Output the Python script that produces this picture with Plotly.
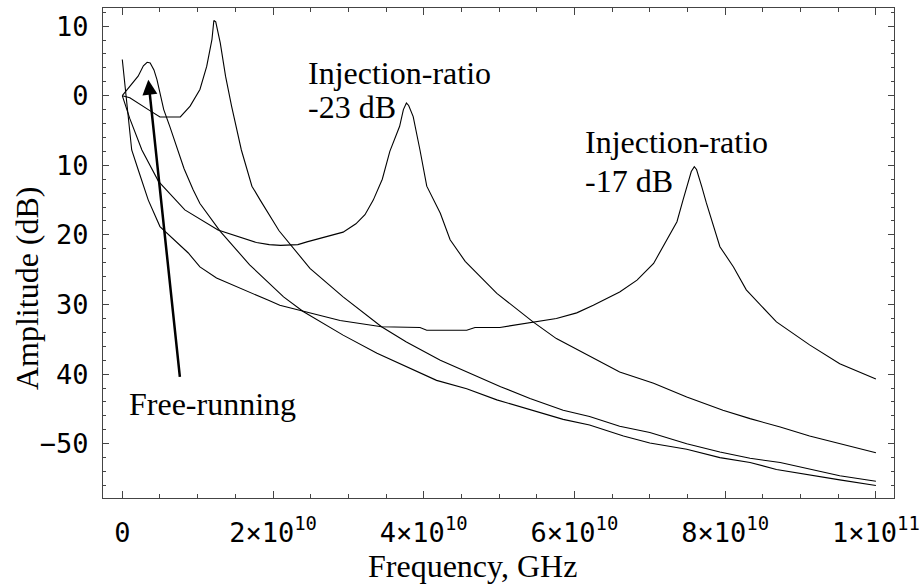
import plotly.graph_objects as go

SCALE = 1e10  # frequency values below are in units of 1e10 Hz

# Free-running
free_x = [0, 0.1, 0.21, 0.28, 0.33, 0.37, 0.42, 0.46, 0.5, 0.55, 0.63, 0.72, 0.82, 0.94, 1.03, 1.30, 1.69,
          2.14, 2.40, 2.93, 3.38, 4.17, 4.57, 4.97, 5.41, 5.85, 6.2, 6.65, 7.0, 7.49, 7.93, 8.33, 8.68,
          9.17, 9.52, 10.0]
free_y = [0, 1.3, 2.8, 4.3, 4.8, 4.7, 3.7, 2.3, 0.4, -2.0, -4.4, -7.3, -10.5, -13.5, -15.5, -19.5, -24.3,
          -28.9, -31.0, -34.4, -37.0, -40.9, -42.1, -43.7, -45.1, -46.5, -47.3, -48.9, -49.9, -50.8, -52.0,
          -52.7, -53.7, -54.6, -55.2, -56.0]

# Weak injection (resonance near 1.2e10)
weak_x = [0, 0.1, 0.345, 0.5, 0.77, 0.9, 1.03, 1.12, 1.19, 1.215, 1.24, 1.26, 1.30, 1.37, 1.45, 1.58,
          1.72, 1.83, 2.08, 2.49, 2.93, 3.44, 3.77, 4.22, 5.02, 5.41, 5.85, 6.2, 6.6, 7.0, 7.49, 7.93,
          8.33, 8.73, 9.17, 9.52, 10.0]
weak_y = [0, -0.3, -2.0, -3.05, -3.05, -1.5, 0.9, 4.2, 8.1, 10.8, 10.6, 9.6, 7.6, 2.8, -1.5, -7.8,
          -13.0, -15.0, -19.4, -24.8, -28.9, -33.2, -35.4, -38.0, -41.8, -43.5, -45.2, -46.1, -47.5,
          -48.4, -50.0, -51.2, -52.1, -52.7, -53.8, -54.6, -55.4]

# Injection ratio -23 dB
inj23_x = [0, 0.1, 0.26, 0.48, 0.83, 1.27, 1.78, 1.95, 2.1, 2.33, 2.45, 2.93, 3.1, 3.22, 3.33, 3.45,
           3.55, 3.68, 3.73, 3.77, 3.80, 3.86, 3.95, 4.04, 4.22, 4.35, 4.55, 4.97, 5.45, 5.76, 6.6,
           7.05, 7.49, 7.97, 8.33, 8.73, 9.12, 9.52, 10.0]
inj23_y = [0, -3.3, -7.8, -12.3, -16.4, -19.3, -21.1, -21.4, -21.5, -21.4, -21.0, -19.6, -18.4, -17.1,
           -15.0, -12.0, -8.0, -4.4, -2.0, -1.05, -1.4, -3.0, -7.8, -13.0, -16.9, -20.7, -23.8, -28.4,
           -32.5, -34.9, -39.7, -41.3, -43.3, -45.2, -46.4, -47.6, -48.9, -50.0, -51.3]

# Injection ratio -17 dB
inj17_x = [0, 0.06, 0.125, 0.21, 0.345, 0.5, 0.876, 1.03, 1.25, 1.94, 2.09, 2.89, 3.44, 3.95, 4.04,
           4.57, 4.68, 5.01, 5.45, 5.76, 6.03, 6.25, 6.6, 6.83, 7.05, 7.22, 7.36, 7.44, 7.49, 7.55,
           7.59, 7.62, 7.69, 7.75, 7.93, 8.11, 8.28, 8.68, 9.12, 9.52, 10.0]
inj17_y = [5.2, -0.8, -7.8, -10.6, -15.0, -18.8, -22.6, -24.6, -26.2, -29.4, -30.1, -32.3, -33.2,
           -33.3, -33.7, -33.7, -33.3, -33.3, -32.5, -32.0, -31.2, -30.1, -28.2, -26.5, -24.1, -20.7,
           -18.1, -15.0, -13.1, -10.9, -10.2, -10.6, -13.1, -15.4, -21.7, -24.6, -27.9, -32.5, -35.8,
           -38.5, -40.7]

x_tickvals = [0, 2, 4, 6, 8, 10]
x_ticktext = ["0", "2×10<sup>10</sup>", "4×10<sup>10</sup>", "6×10<sup>10</sup>",
              "8×10<sup>10</sup>", "1×10<sup>11</sup>"]
y_tickvals = [10, 0, -10, -20, -30, -40, -50]
y_ticktext = ["10", "0", "10", "20", "30", "40", "−50"]

LINE = dict(color="black", width=1.1)
AX = "#444444"
SERIF = "Liberation Serif, Times New Roman, serif"
MONO = "DejaVu Sans Mono, monospace"

fig = go.Figure()
for xs, ys in [(free_x, free_y), (weak_x, weak_y), (inj23_x, inj23_y), (inj17_x, inj17_y)]:
    fig.add_trace(go.Scatter(x=[v * SCALE for v in xs], y=ys, mode="lines", line=LINE,
                             hoverinfo="skip"))

fig.update_layout(
    width=919, height=588,
    margin=dict(l=103, r=25, t=8, b=90, autoexpand=False),
    plot_bgcolor="white", paper_bgcolor="white",
    showlegend=False,
)

fig.update_xaxes(
    range=[-0.256 * SCALE, 10.24 * SCALE], automargin=False,
    tickmode="array", tickvals=[v * SCALE for v in x_tickvals], ticktext=x_ticktext,
    ticks="inside", ticklen=7, tickwidth=1, tickcolor=AX,
    showline=True, linecolor=AX, linewidth=1.2, mirror="allticks",
    showgrid=False, zeroline=False,
    tickfont=dict(family=MONO, size=27, color="black"),
    ticklabelstandoff=10, ticklabeloverflow="allow",
    minor=dict(tickmode="linear", tick0=0, dtick=0.5 * SCALE, ticks="inside", ticklen=4,
               tickcolor=AX, showgrid=False),
)
fig.update_yaxes(
    range=[-57.8, 12.6], automargin=False,
    tickmode="array", tickvals=y_tickvals, ticktext=y_ticktext,
    ticks="inside", ticklen=6, tickwidth=1, tickcolor=AX,
    showline=True, linecolor=AX, linewidth=1.2, mirror="allticks",
    showgrid=False, zeroline=False,
    tickfont=dict(family=MONO, size=27, color="black"),
    ticklabelstandoff=8, ticklabeloverflow="allow",
    minor=dict(tickmode="linear", tick0=0, dtick=2, ticks="inside", ticklen=3,
               tickcolor=AX, showgrid=False),
)

TF = dict(family=SERIF, size=32, color="black")
annos = [
    dict(text="Injection-ratio", x=2.447 * SCALE, y=3.3),
    dict(text="-23 dB", x=2.447 * SCALE, y=-1.6),
    dict(text="Injection-ratio", x=6.12 * SCALE, y=-6.7),
    dict(text="-17 dB", x=6.12 * SCALE, y=-12.2),
    dict(text="Free-running", x=0.07 * SCALE, y=-44.3),
]
for a in annos:
    fig.add_annotation(xref="x", yref="y", xanchor="left", yanchor="middle",
                       showarrow=False, font=TF, borderpad=0, **a)

# Arrow pointing to free-running peak
fig.add_annotation(xref="x", yref="y", axref="x", ayref="y",
                   x=0.345 * SCALE, y=2.3, ax=0.766 * SCALE, ay=-40.6,
                   text="", showarrow=True, arrowhead=2, arrowsize=1.2, arrowwidth=2.5,
                   arrowcolor="black", standoff=0, startstandoff=0)

# Axis titles
fig.add_annotation(xref="paper", yref="paper", x=(472.5 - 103) / 791, y=(497.7 - 566) / 489.4,
                   text="Frequency, GHz", showarrow=False, font=TF,
                   xanchor="center", yanchor="middle")
fig.add_annotation(xref="paper", yref="paper", x=(27 - 103) / 791, y=(497.7 - 288) / 489.4,
                   text="Amplitude (dB)", showarrow=False, font=TF, textangle=-90,
                   xanchor="center", yanchor="middle")

fig.write_html("out.html")
